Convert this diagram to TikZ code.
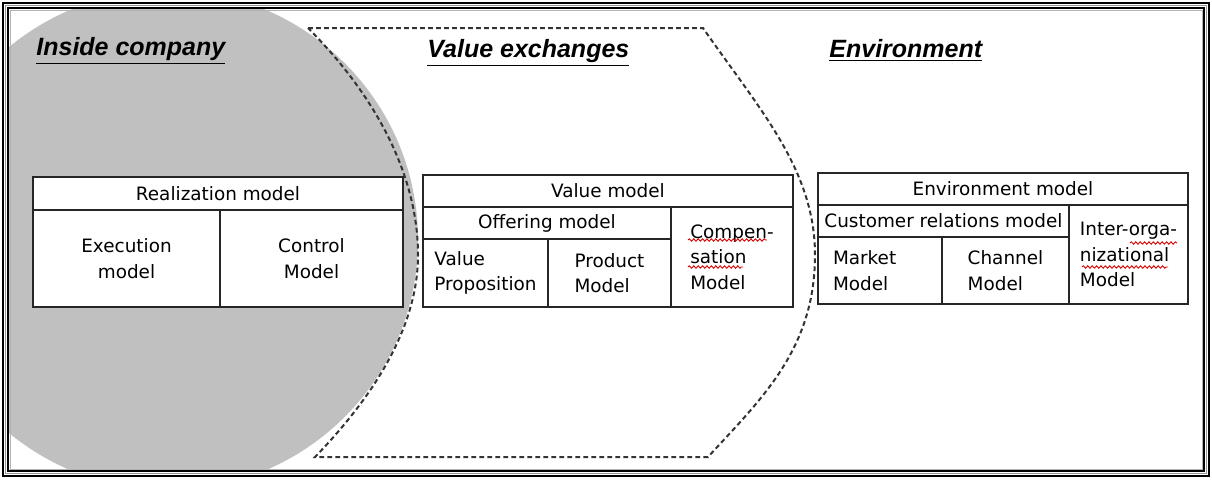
\documentclass[tikz,border=0pt]{standalone}
\usepackage{fontspec}
\setmainfont{DejaVu Sans}
\newfontfamily\headfont{Liberation Sans}
\usetikzlibrary{positioning,decorations.pathmorphing}

\definecolor{silverfill}{RGB}{192,192,192}
\definecolor{framegray}{RGB}{150,150,150}

\tikzset{
  cell/.style={draw=black!85, line width=0.7pt, anchor=north west, inner sep=0pt,
    outer sep=0pt, align=center, font=\fontsize{9.2pt}{12.75pt}\selectfont},
  heading/.style={anchor=base west, inner sep=0pt,
    font=\headfont\fontsize{12.5pt}{14pt}\selectfont\bfseries\itshape},
  border/.style={dash pattern=on 2.4pt off 1.6pt, line width=1pt, draw=black!80},
  squiggle/.style={red!85!black, line width=0.45pt,
    decorate, decoration={snake, amplitude=0.6pt, segment length=2.2pt}}
}

\begin{document}
\begin{tikzpicture}[x=0.5pt, y=-0.5pt]
\useasboundingbox (0,0) rectangle (1212,479);

% grey company half
\begin{scope}
  \clip (8,8) rectangle (1204,471);
  \fill[silverfill] (168,240) circle[radius=125pt];
\end{scope}

% frame
\draw[line width=1.1pt] (3,3) rectangle (1209,476);
\draw[framegray, line width=0.6pt] (5.6,5.6) rectangle (1206.4,473.4);
\draw[line width=0.9pt] (8,8) rectangle (1204,471);
\draw[black!30, line width=0.4pt] (10,10) rectangle (1202,469);

% value exchange area
\draw[border] (308,28) -- (703,28)
  .. controls (760,110) and (815,170) .. (815,255)
  .. controls (815,350) and (760,400) .. (708,457)
  -- (315,457)
  .. controls (370,400) and (418,330) .. (418,255)
  .. controls (418,170) and (370,90) .. (308,28) -- cycle;

% headings
\node[heading] (hinside) at (36,55) {\underline{Inside company}};
\node[heading] (hvalue) at (427,57) {\underline{Value exchanges}};
\node[heading] (henv) at (829,57) {\underline{Environment}};

% realization model
\node[cell, fill=white, minimum width=185pt, minimum height=16.5pt] (rhead) at (33,177) {Realization model};
\node[cell, fill=white, minimum width=93.5pt, minimum height=48.5pt] (rexec) at (rhead.south west) {Execution\\model};
\node[cell, fill=white, minimum width=91.5pt, minimum height=48.5pt] (rctrl) at (rexec.north east) {Control\\Model};

% value model
\node[cell, minimum width=185pt, minimum height=16pt] (vhead) at (423,175) {Value model};
\node[cell, minimum width=124pt, minimum height=16pt] (voffer) at (vhead.south west) {Offering model};
\node[cell, minimum width=62.5pt, minimum height=34pt, align=left] (vprop) at (voffer.south west) {Value\\Proposition};
\node[cell, minimum width=61.5pt, minimum height=34pt, align=left] (vprod) at (vprop.north east) {Product\\Model};
\node[cell, minimum width=61pt, minimum height=50pt, align=left] (vcomp) at (voffer.north east) {Compen-\\sation\\Model};

% environment model
\node[cell, minimum width=185pt, minimum height=16pt] (ehead) at (818,173) {Environment model};
\node[cell, minimum width=125.5pt, minimum height=16pt] (ecust) at (ehead.south west) {Customer relations model};
\node[cell, minimum width=62pt, minimum height=33.5pt, inner xsep=7.5pt, text width=47pt, align=left] (emark) at (ecust.south west) {Market\\Model};
\node[cell, minimum width=63.5pt, minimum height=33.5pt, align=left] (echan) at (emark.north east) {Channel\\Model};
\node[cell, minimum width=59.5pt, minimum height=49.5pt, align=left] (einter) at (ecust.north east) {Inter-orga-\\nizational\\Model};

% spell check marks
\draw[squiggle] (688,240) -- (767,240);
\draw[squiggle] (688,267) -- (743,267);
\draw[squiggle] (1130,243) -- (1177,243);
\draw[squiggle] (1082,267) -- (1168,267);

\end{tikzpicture}
\end{document}
